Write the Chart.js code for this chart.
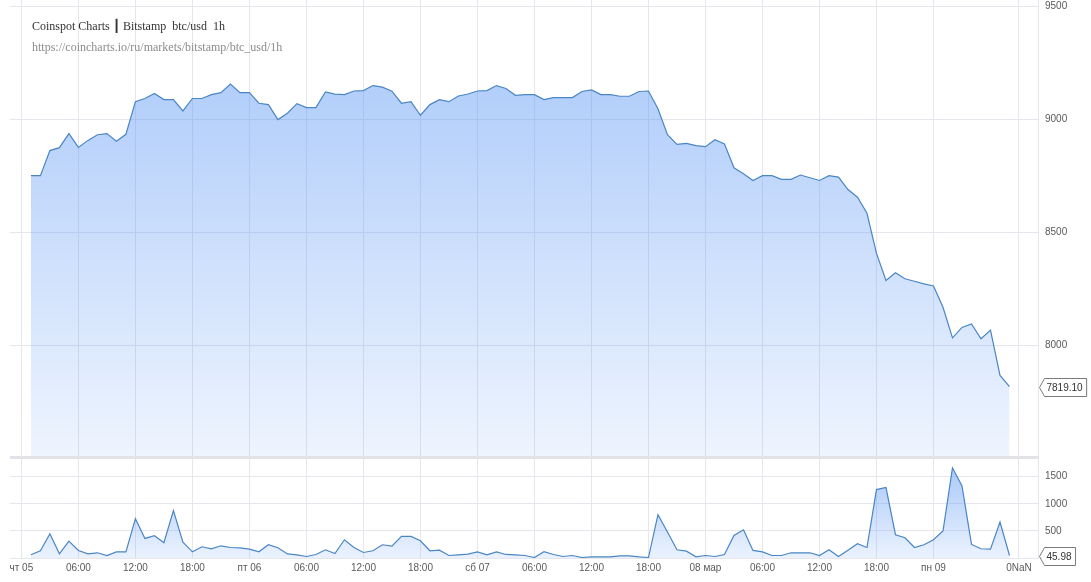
<!DOCTYPE html>
<html>
<head>
<meta charset="utf-8">
<script src="https://cdn.jsdelivr.net/npm/chart.js@4.4.1/dist/chart.umd.min.js"></script>
<style>
  body { margin: 0; background: #fff; }
  #wrap { position: relative; width: 1091px; height: 582px; overflow: hidden; }
  #priceChart { position: absolute; left: 0; top: 0; }
  #volumeChart { position: absolute; left: 0; top: 459px; }
  #sep { position: absolute; left: 10px; top: 456px; width: 1029px; height: 3px; background: #e2e2e8; }
  .title { position: absolute; left: 32px; top: 19px; font: 12px "Liberation Serif", "Times New Roman", serif; color: #333; white-space: pre; }
  .url { position: absolute; left: 32px; top: 40px; font: 12px "Liberation Serif", "Times New Roman", serif; color: #8c8c8c; white-space: pre; }
  .bar { font-family: "DejaVu Sans", sans-serif; font-weight: bold; }
</style>
</head>
<body>
<div id="wrap">
  <canvas id="priceChart" width="1091" height="456"></canvas>
  <div id="sep"></div>
  <canvas id="volumeChart" width="1091" height="123"></canvas>
  <div class="title">Coinspot Charts <span class="bar">┃</span> Bitstamp  btc/usd  1h</div>
  <div class="url">https://coincharts.io/ru/markets/bitstamp/btc_usd/1h</div>
</div>
<script>
// hourly candles, first one at 01:00 on Thu 05
const firstHour = 1;

const prices = [
  8751, 8751, 8862, 8875, 8937, 8876, 8907, 8932, 8937, 8903, 8934, 9078,
  9092, 9114, 9087, 9087, 9037, 9092, 9092, 9109, 9118, 9156, 9118, 9118,
  9071, 9065, 8999, 9027, 9069, 9052, 9052, 9121, 9111, 9109, 9125, 9127,
  9149, 9142, 9124, 9071, 9078, 9018, 9065, 9087, 9078, 9103, 9112, 9125,
  9127, 9149, 9136, 9106, 9109, 9109, 9087, 9096, 9096, 9096, 9123, 9130,
  9109, 9109, 9102, 9102, 9123, 9125, 9047, 8932, 8889, 8894, 8884, 8879,
  8910, 8891, 8786, 8760, 8730, 8751, 8751, 8735, 8735, 8754, 8742, 8730,
  8751, 8745, 8690, 8656, 8585, 8408, 8288, 8322, 8296, 8285, 8273, 8264,
  8170, 8035, 8081, 8096, 8031, 8069, 7869, 7819.10
];

const volumes = [
  59, 133, 447, 77, 312, 139, 77, 96, 46, 114, 114, 725,
  361, 410, 281, 873, 293, 114, 207, 170, 225, 194, 188, 164,
  114, 244, 188, 75, 59, 28, 65, 151, 83, 336, 194, 102,
  133, 244, 219, 398, 398, 318, 133, 145, 46, 59, 71, 114,
  59, 114, 65, 59, 46, 9, 115, 65, 28, 46, 9, 22,
  22, 22, 40, 40, 22, 9, 799, 478, 151, 126, 22, 46,
  28, 65, 416, 521, 139, 114, 46, 46, 96, 96, 96, 46,
  151, 28, 145, 262, 194, 1262, 1299, 429, 373, 194, 244, 336,
  497, 1663, 1330, 250, 170, 164, 663, 45.98
];

const tickHours = [0, 6, 12, 18, 24, 30, 36, 42, 48, 54, 60, 66, 72, 78, 84, 90, 96, 105];
const tickLabels = ['чт 05', '06:00', '12:00', '18:00', 'пт 06', '06:00', '12:00', '18:00',
  'сб 07', '06:00', '12:00', '18:00', '08 мар', '06:00', '12:00', '18:00', 'пн 09', '0NaN'];

const priceTicks = [8000, 8500, 9000, 9500];
const volumeTicks = [0, 500, 1000, 1500];

const gridColor = '#e6e6ec';
const lineColor = '#4a86c4';
const fontFamily = '"Liberation Sans", Arial, sans-serif';

Chart.defaults.font.family = fontFamily;
Chart.defaults.font.size = 10;
Chart.defaults.color = '#5a5a5a';

function toPoints(values) {
  return values.map((v, i) => ({ x: firstHour + i, y: v }));
}

function gradient(ctx, topAlpha, bottomAlpha) {
  const chart = ctx.chart;
  const area = chart.chartArea;
  if (!area) return 'rgba(90,150,245,0.3)';
  const g = chart.ctx.createLinearGradient(0, area.top, 0, area.bottom);
  g.addColorStop(0, 'rgba(90,150,245,' + topAlpha + ')');
  g.addColorStop(1, 'rgba(90,150,245,' + bottomAlpha + ')');
  return g;
}

function noPadding(s) {
  s.paddingTop = 0; s.paddingBottom = 0; s.paddingLeft = 0; s.paddingRight = 0;
}

function xAxis(showLabels) {
  return {
    type: 'linear',
    min: -1.2,
    max: 107,
    afterBuildTicks: s => { s.ticks = tickHours.map(v => ({ value: v })); },
    afterFit: s => { s.height = showLabels ? 24 : 0; noPadding(s); },
    grid: { color: gridColor, drawTicks: false },
    border: { display: false },
    ticks: {
      display: showLabels,
      padding: 4,
      maxRotation: 0,
      autoSkip: false,
      callback: (v, i) => tickLabels[i]
    }
  };
}

function yAxis(min, max, ticks, hideZero) {
  return {
    position: 'right',
    min: min,
    max: max,
    afterBuildTicks: s => { s.ticks = ticks.map(v => ({ value: v })); },
    afterFit: s => { s.width = 53; noPadding(s); },
    grid: { color: gridColor, drawTicks: false },
    border: { display: true, color: gridColor },
    ticks: {
      padding: 7,
      callback: v => (hideZero && v === 0) ? '' : String(v)
    }
  };
}

// price / volume tag at the right edge, pointing at the last value
const lastValueTag = {
  id: 'lastValueTag',
  afterDraw(chart) {
    const data = chart.data.datasets[0].data;
    const last = data[data.length - 1].y;
    const y = Math.round(chart.scales.y.getPixelForValue(last)) + 0.5;
    const x = chart.chartArea.right + 1.5;
    const text = last.toFixed(2);
    const c = chart.ctx;
    c.save();
    c.font = '10px ' + fontFamily;
    const w = c.measureText(text).width + 6;
    const h = 18;
    c.beginPath();
    c.moveTo(x, y);
    c.lineTo(x + 5, y - h / 2);
    c.lineTo(x + 5 + w, y - h / 2);
    c.lineTo(x + 5 + w, y + h / 2);
    c.lineTo(x + 5, y + h / 2);
    c.closePath();
    c.fillStyle = '#fff';
    c.fill();
    c.strokeStyle = '#7a7a7a';
    c.lineWidth = 1;
    c.stroke();
    c.fillStyle = '#333';
    c.textBaseline = 'middle';
    c.fillText(text, x + 7, y + 0.5);
    c.restore();
  }
};

const commonOptions = {
  responsive: false,
  animation: false,
  events: [],
  plugins: { legend: { display: false }, tooltip: { enabled: false } }
};

new Chart(document.getElementById('priceChart'), {
  type: 'line',
  data: {
    datasets: [{
      data: toPoints(prices),
      borderColor: lineColor,
      borderWidth: 1.2,
      pointRadius: 0,
      tension: 0,
      fill: 'start',
      backgroundColor: ctx => gradient(ctx, 0.55, 0.1)
    }]
  },
  options: {
    ...commonOptions,
    layout: { padding: { left: 10, right: 0, top: 0, bottom: 0 } },
    scales: {
      x: xAxis(false),
      y: yAxis(7513, 9527, priceTicks, false)
    }
  },
  plugins: [lastValueTag]
});

new Chart(document.getElementById('volumeChart'), {
  type: 'line',
  data: {
    datasets: [{
      data: toPoints(volumes),
      borderColor: lineColor,
      borderWidth: 1.2,
      pointRadius: 0,
      tension: 0,
      fill: 'start',
      backgroundColor: ctx => gradient(ctx, 0.55, 0.12)
    }]
  },
  options: {
    ...commonOptions,
    layout: { padding: { left: 10, right: 0, top: 0, bottom: 0 } },
    scales: {
      x: xAxis(true),
      y: yAxis(0, 1825, volumeTicks, true)
    }
  },
  plugins: [lastValueTag]
});
</script>
</body>
</html>
